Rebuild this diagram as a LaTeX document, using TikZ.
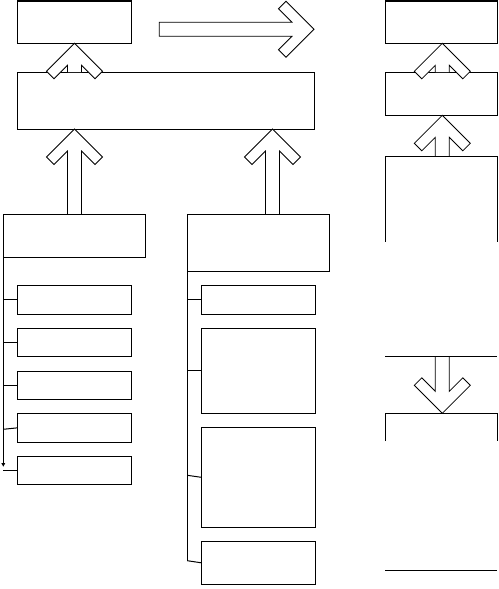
\documentclass[tikz,border=0pt]{standalone}
\usetikzlibrary{arrows.meta,calc}
\begin{document}
\begin{tikzpicture}[x=1pt,y=-1pt,
  box/.style={draw,line width=1pt,rectangle,inner sep=0pt,outer sep=0pt,anchor=north west},
  ghost/.style={rectangle,inner sep=0pt,outer sep=0pt,anchor=north west},
  conn/.style={line width=1pt},
  arrline/.style={line width=0.8pt,line join=miter},
  pics/uparr/.style={code={
    \fill[white] (0,0) -- (28,28) -- (20.5,35.5) -- (7,22) -- (7,#1) -- (-7,#1) -- (-7,22) -- (-20.5,35.5) -- (-28,28) -- cycle;
    \draw[arrline] (7,#1) -- (7,22) -- (20.5,35.5) -- (28,28) -- (0,0) -- (-28,28) -- (-20.5,35.5) -- (-7,22) -- (-7,#1);
  }},
  pics/downarr/.style={code={
    \fill[white] (0,0) -- (28,-28) -- (20.5,-35.5) -- (7,-22) -- (7,-#1) -- (-7,-#1) -- (-7,-22) -- (-20.5,-35.5) -- (-28,-28) -- cycle;
    \draw[arrline] (7,-#1) -- (7,-22) -- (20.5,-35.5) -- (28,-28) -- (0,0) -- (-28,-28) -- (-20.5,-35.5) -- (-7,-22) -- (-7,-#1);
  }},
  pics/rightarr/.style={code={
    \filldraw[arrline,fill=white] (0,0) -- (-28,-28) -- (-35.5,-20.5) -- (-22,-7) -- (-#1,-7) -- (-#1,7) -- (-22,7) -- (-35.5,20.5) -- (-28,28) -- cycle;
  }},
]
\useasboundingbox (0,0) rectangle (498,589);

% upper boxes
\node[box,minimum width=114.4pt,minimum height=42.3pt] (tl) at (17.3,1) {};
\node[box,minimum width=297pt,minimum height=57pt] (big) at (17.3,72) {};
\node[box,minimum width=112pt,minimum height=42.3pt] (rt1) at (385.3,1) {};
\node[box,minimum width=112pt,minimum height=43.3pt] (rt2) at (385.3,72) {};

% arrows covering box edges
\pic at (tl.south) {uparr=28.7};
\pic at (442.3,43.3) {uparr=28.7};
% other arrows
\pic at (tl.south |- big.south) {uparr=85.3};
\pic at (272.5,129) {uparr=85.3};
\pic at (442.3,115.3) {uparr=41.4};
\pic at (442.3,413.3) {downarr=57};
\pic at (314,29.3) {rightarr=154.7};

% lower boxes
\node[box,minimum width=142.4pt,minimum height=42.7pt] (lb) at (3.3,214.3) {};
\node[box,minimum width=142.4pt,minimum height=57pt] (mb) at (187.3,214.3) {};

\node[box,minimum width=114.4pt,minimum height=28.7pt] (l1) at (17.3,285.3) {};
\node[box,minimum width=114.4pt,minimum height=27.7pt] (l2) at (17.3,328.3) {};
\node[box,minimum width=114.4pt,minimum height=28.3pt] (l3) at (17.3,371) {};
\node[box,minimum width=114.4pt,minimum height=28.3pt] (l4) at (17.3,413.7) {};
\node[box,minimum width=114.4pt,minimum height=28pt] (l5) at (17.3,456.3) {};

\node[box,minimum width=113.7pt,minimum height=28.7pt] (m1) at (201.3,285.3) {};
\node[box,minimum width=113.7pt,minimum height=84.7pt] (m2) at (201.3,328.3) {};
\node[box,minimum width=113.7pt,minimum height=100pt] (m3) at (201.3,427.3) {};
\node[box,minimum width=113.7pt,minimum height=43pt] (m4) at (201.3,541.3) {};

% right column open boxes
\node[ghost,minimum width=112pt,minimum height=199.6pt] (rc1) at (385.3,156.7) {};
\node[ghost,minimum width=112pt,minimum height=157.4pt] (rc2) at (385.3,413.3) {};
\draw[conn] ($(rc1.north west)+(0,85)$) -- (rc1.north west) -- (rc1.north east) -- ($(rc1.north east)+(0,85)$);
\draw[conn] (rc1.south west) -- (rc1.south east);
\draw[conn] ($(rc2.north west)+(0,27.7)$) -- (rc2.north west) -- (rc2.north east) -- ($(rc2.north east)+(0,27.7)$);
\draw[conn] (rc2.south west) -- (rc2.south east);

% left column connectors
\coordinate (lend) at (3.3,466.7);
\coordinate (l4b) at (3.3,429.3);
\draw[conn,-{Triangle[length=3.5pt,width=3.5pt]}] (lb.south west) -- (lend);
\draw[conn] (lb.south west |- l1.west) -- (l1.west);
\draw[conn] (lb.south west |- l2.west) -- (l2.west);
\draw[conn] (lb.south west |- l3.west) -- (l3.west);
\draw[conn] (l4b) -- (l4.west);
\draw[conn] (lb.south west |- l5.west) -- (l5.west);

% middle column connectors
\coordinate (mend) at (187.3,560.7);
\coordinate (m3b) at (187.3,475.3);
\draw[conn] (mb.south west) -- (mend);
\draw[conn] (mb.south west |- m1.west) -- (m1.west);
\draw[conn] (mb.south west |- m2.west) -- (m2.west);
\draw[conn] (m3b) -- (m3.west);
\draw[conn] (mend) -- (m4.west);
\end{tikzpicture}
\end{document}
